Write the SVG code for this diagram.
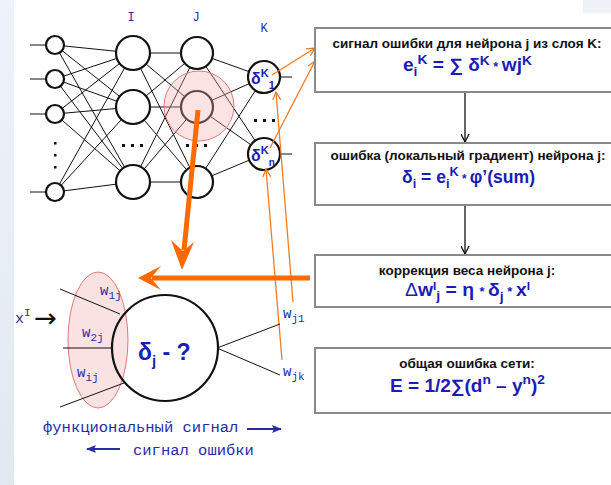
<svg xmlns="http://www.w3.org/2000/svg" width="611" height="485" viewBox="0 0 611 485">
<style>
.n{fill:#fff;stroke:#111;stroke-width:2.2}
.e{stroke:#111;stroke-width:1;fill:none}
.box{fill:#fff;stroke:#8a8a8a;stroke-width:2}
.t{font-family:"Liberation Sans",Arial,sans-serif;font-weight:bold;font-size:13.5px;fill:#111;text-anchor:middle}
.f{font-family:"Liberation Sans",Arial,sans-serif;font-weight:bold;font-size:18px;fill:#1c1cb4}
.m{font-family:"Liberation Mono","Courier New",monospace;fill:#2a2aa8}
.d{font-family:"Liberation Sans",Arial,sans-serif;font-weight:bold;fill:#1c1cb4}
.or{stroke:#f47a20;stroke-width:1.3;fill:none}
.oT{stroke:#ff6a00;stroke-width:5;fill:none}
.blk{stroke:#111;stroke-width:1.3;fill:none}
.bl{stroke:#2a2aa8;stroke-width:2;fill:none}
</style>
<defs>
<linearGradient id="bg" x1="0" y1="0" x2="0" y2="1"><stop offset="0" stop-color="#eef3fa"/><stop offset="1" stop-color="#e2e8f2"/></linearGradient>
<marker id="ao" viewBox="0 0 10 10" refX="9" refY="5" markerWidth="9" markerHeight="9" markerUnits="userSpaceOnUse" orient="auto"><path d="M0,0.5 L9,5 L0,9.5" fill="none" stroke="#f47a20" stroke-width="1.4"/></marker>
<marker id="ak" viewBox="0 0 10 10" refX="9" refY="5" markerWidth="9" markerHeight="9" markerUnits="userSpaceOnUse" orient="auto"><path d="M0,0.5 L9,5 L0,9.5" fill="none" stroke="#111" stroke-width="1.4"/></marker>
<marker id="ab" viewBox="0 0 10 10" refX="9" refY="5" markerWidth="10" markerHeight="10" markerUnits="userSpaceOnUse" orient="auto"><path d="M0,1 L10,5 L0,9 L2,5 Z" fill="#2a2aa8"/></marker>
</defs>
<rect width="611" height="485" fill="#fff"/>
<rect x="0" y="0" width="14" height="485" fill="url(#bg)"/>
<rect x="583" y="0" width="28" height="13" fill="#eef2f8"/>

<g id="connectors">
<g class="e">
<path d="M30,45H46M30,79H46M30,114H46M30,192H46M280,77H292M280,154H292"/>
<path d="M55,45L133,53M55,45L133,107M55,45L133,182M55,79L133,53M55,79L133,107M55,79L133,182M55,114L133,53M55,114L133,107M55,114L133,182M55,192L133,53M55,192L133,107M55,192L133,182"/>
<path d="M133,53L197,53M133,53L197,107M133,53L197,182M133,107L197,53M133,107L197,107M133,107L197,182M133,182L197,53M133,182L197,107M133,182L197,182"/>
<path d="M197,53L264,77M197,53L264,154M197,107L264,77M197,107L264,154M197,182L264,77M197,182L264,154"/>
</g>
<line x1="465" y1="92" x2="465" y2="142" class="blk" marker-end="url(#ak)"/>
<line x1="465" y1="205" x2="465" y2="254" class="blk" marker-end="url(#ak)"/>
</g>

<g id="input-layer">
<circle class="n" cx="55" cy="45" r="9"/><circle class="n" cx="55" cy="79" r="9"/><circle class="n" cx="55" cy="114" r="9"/><circle class="n" cx="55" cy="192" r="9"/>
<g fill="#111"><rect x="54" y="142" width="2.5" height="2.5"/><rect x="54" y="154" width="2.5" height="2.5"/><rect x="54" y="166" width="2.5" height="2.5"/></g>
</g>
<g id="layer-I">
<text class="m" x="131" y="21" font-size="12" text-anchor="middle">I</text>
<circle class="n" cx="133" cy="53" r="17"/><circle class="n" cx="133" cy="107" r="17"/><circle class="n" cx="133" cy="182" r="17"/>
<g fill="#111"><rect x="122" y="144" width="3" height="3"/><rect x="131" y="144" width="3" height="3"/><rect x="140" y="144" width="3" height="3"/></g>
</g>
<g id="layer-J">
<text class="m" x="196" y="21" font-size="12" text-anchor="middle">J</text>
<circle class="n" cx="197" cy="53" r="16"/><circle class="n" cx="197" cy="107" r="16"/><circle class="n" cx="197" cy="182" r="16"/>
<g fill="#111"><rect x="186" y="144" width="3" height="3"/><rect x="195" y="144" width="3" height="3"/><rect x="204" y="144" width="3" height="3"/></g>
<circle cx="199" cy="106" r="35" fill="#f4b0b0" fill-opacity="0.35" stroke="#e07878" stroke-width="1"/>
</g>
<g id="layer-K">
<text class="m" x="264" y="32" font-size="12" text-anchor="middle">K</text>
<circle class="n" cx="264" cy="77" r="16"/><circle class="n" cx="264" cy="154" r="16"/>
<g fill="#111"><rect x="254" y="119" width="3" height="3"/><rect x="263" y="119" width="3" height="3"/><rect x="272" y="119" width="3" height="3"/></g>
<text class="d" x="251" y="84" font-size="16">δ<tspan font-size="11" dy="-7">K</tspan><tspan font-size="11" dy="12">1</tspan></text>
<text class="d" x="251" y="161" font-size="16">δ<tspan font-size="11" dy="-7">K</tspan><tspan font-size="10" dy="12">n</tspan></text>
</g>

<g id="orange-arrows">
<line x1="272" y1="75" x2="315" y2="48" class="or" marker-end="url(#ao)"/>
<line x1="270" y1="148" x2="315" y2="61" class="or" marker-end="url(#ao)"/>
<line x1="293" y1="302" x2="276" y2="92" class="or" marker-end="url(#ao)"/>
<line x1="282" y1="360" x2="266" y2="169" class="or" marker-end="url(#ao)"/>
<line x1="198" y1="110" x2="184" y2="250" class="oT"/>
<path d="M182,270 L171,240 L183,251 L194,242 Z" fill="#ff6a00"/>
<line x1="310" y1="278" x2="152" y2="278" class="oT"/>
<path d="M138,278 L161,266 L151,278 L161,290 Z" fill="#ff6a00"/>
</g>

<g id="box1">
<rect class="box" x="315" y="28" width="300" height="64"/>
<text class="t" x="467" y="48">сигнал ошибки для нейрона j из слоя K:</text>
<text class="f" x="403" y="71" textLength="129" lengthAdjust="spacingAndGlyphs">e<tspan font-size="13" dy="5">i</tspan><tspan font-size="13" dy="-12">K</tspan><tspan dy="7"> = ∑ δ</tspan><tspan font-size="13" dy="-6">K</tspan><tspan font-size="12" dy="6"> * </tspan>wj<tspan font-size="13" dy="-6">K</tspan></text>
</g>
<g id="box2">
<rect class="box" x="315" y="143" width="300" height="62"/>
<text class="t" x="468" y="160">ошибка (локальный градиент) нейрона j:</text>
<text class="f" x="402" y="183" textLength="133" lengthAdjust="spacingAndGlyphs">δ<tspan font-size="13" dy="5">i</tspan><tspan dy="-5"> = e</tspan><tspan font-size="13" dy="5">i</tspan><tspan font-size="13" dy="-12">K</tspan><tspan font-size="12" dy="7"> * </tspan>φ’(sum)</text>
</g>
<g id="box3">
<rect class="box" x="315" y="255" width="300" height="52"/>
<text class="t" x="467" y="275">коррекция веса нейрона j:</text>
<text class="f" x="405" y="296" textLength="125" lengthAdjust="spacingAndGlyphs"><tspan font-weight="normal">Δ</tspan>w<tspan font-size="11" dy="-6">I</tspan><tspan font-size="13" dy="10">j</tspan><tspan dy="-4"> = η </tspan><tspan font-size="12">* </tspan>δ<tspan font-size="13" dy="5">j</tspan><tspan font-size="12" dy="-5"> * </tspan>x<tspan font-size="11" dy="-6">I</tspan></text>
</g>
<g id="box4">
<rect class="box" x="315" y="348" width="300" height="65"/>
<text class="t" x="467" y="368">общая ошибка сети:</text>
<text class="f" x="390" y="392" font-size="21" textLength="155" lengthAdjust="spacingAndGlyphs">E = 1/2∑(d<tspan font-size="13" dy="-8">n</tspan><tspan dy="8"> – y</tspan><tspan font-size="13" dy="-8">n</tspan><tspan dy="8">)</tspan><tspan font-size="13" dy="-8">2</tspan></text>
</g>

<g id="neuron-j">
<ellipse cx="98" cy="340" rx="30" ry="68" fill="#fbe2e2" stroke="#e07878" stroke-width="1"/>
<g class="e" stroke-width="1.6">
<path d="M60,289L120,314M63,348L112,348M60,407L124,383M217,348L280,324M217,348L280,375"/>
</g>
<circle cx="165" cy="348" r="53" fill="none" stroke="#111" stroke-width="2.2"/>
<text class="d" x="138" y="360" font-size="23">δ<tspan font-size="15" dy="6">j</tspan><tspan dy="-6"> - ?</tspan></text>
<text class="m" x="100" y="295" font-size="14">w<tspan font-size="11" dy="4">1j</tspan></text>
<text class="m" x="82" y="337" font-size="14">w<tspan font-size="11" dy="4">2j</tspan></text>
<text class="m" x="77" y="377" font-size="14">w<tspan font-size="11" dy="4">ij</tspan></text>
<text class="m" x="283" y="318" font-size="14">w<tspan font-size="11" dy="4">j1</tspan></text>
<text class="m" x="283" y="376" font-size="14">w<tspan font-size="11" dy="4">jk</tspan></text>
<text class="m" x="15" y="323" font-size="15">x<tspan font-size="11" dy="-7">I</tspan></text>
<text x="34" y="327" font-family="'DejaVu Sans',sans-serif" font-size="26" fill="#111" textLength="23" lengthAdjust="spacingAndGlyphs">→</text>
</g>

<g id="legend">
<text class="m" x="43" y="432" font-size="15.5">функциональный сигнал</text>
<line x1="247" y1="429" x2="281" y2="429" class="bl" marker-end="url(#ab)"/>
<line x1="120" y1="449" x2="87" y2="449" class="bl" marker-end="url(#ab)"/>
<text class="m" x="133" y="455" font-size="15.5">сигнал ошибки</text>
</g>
</svg>
